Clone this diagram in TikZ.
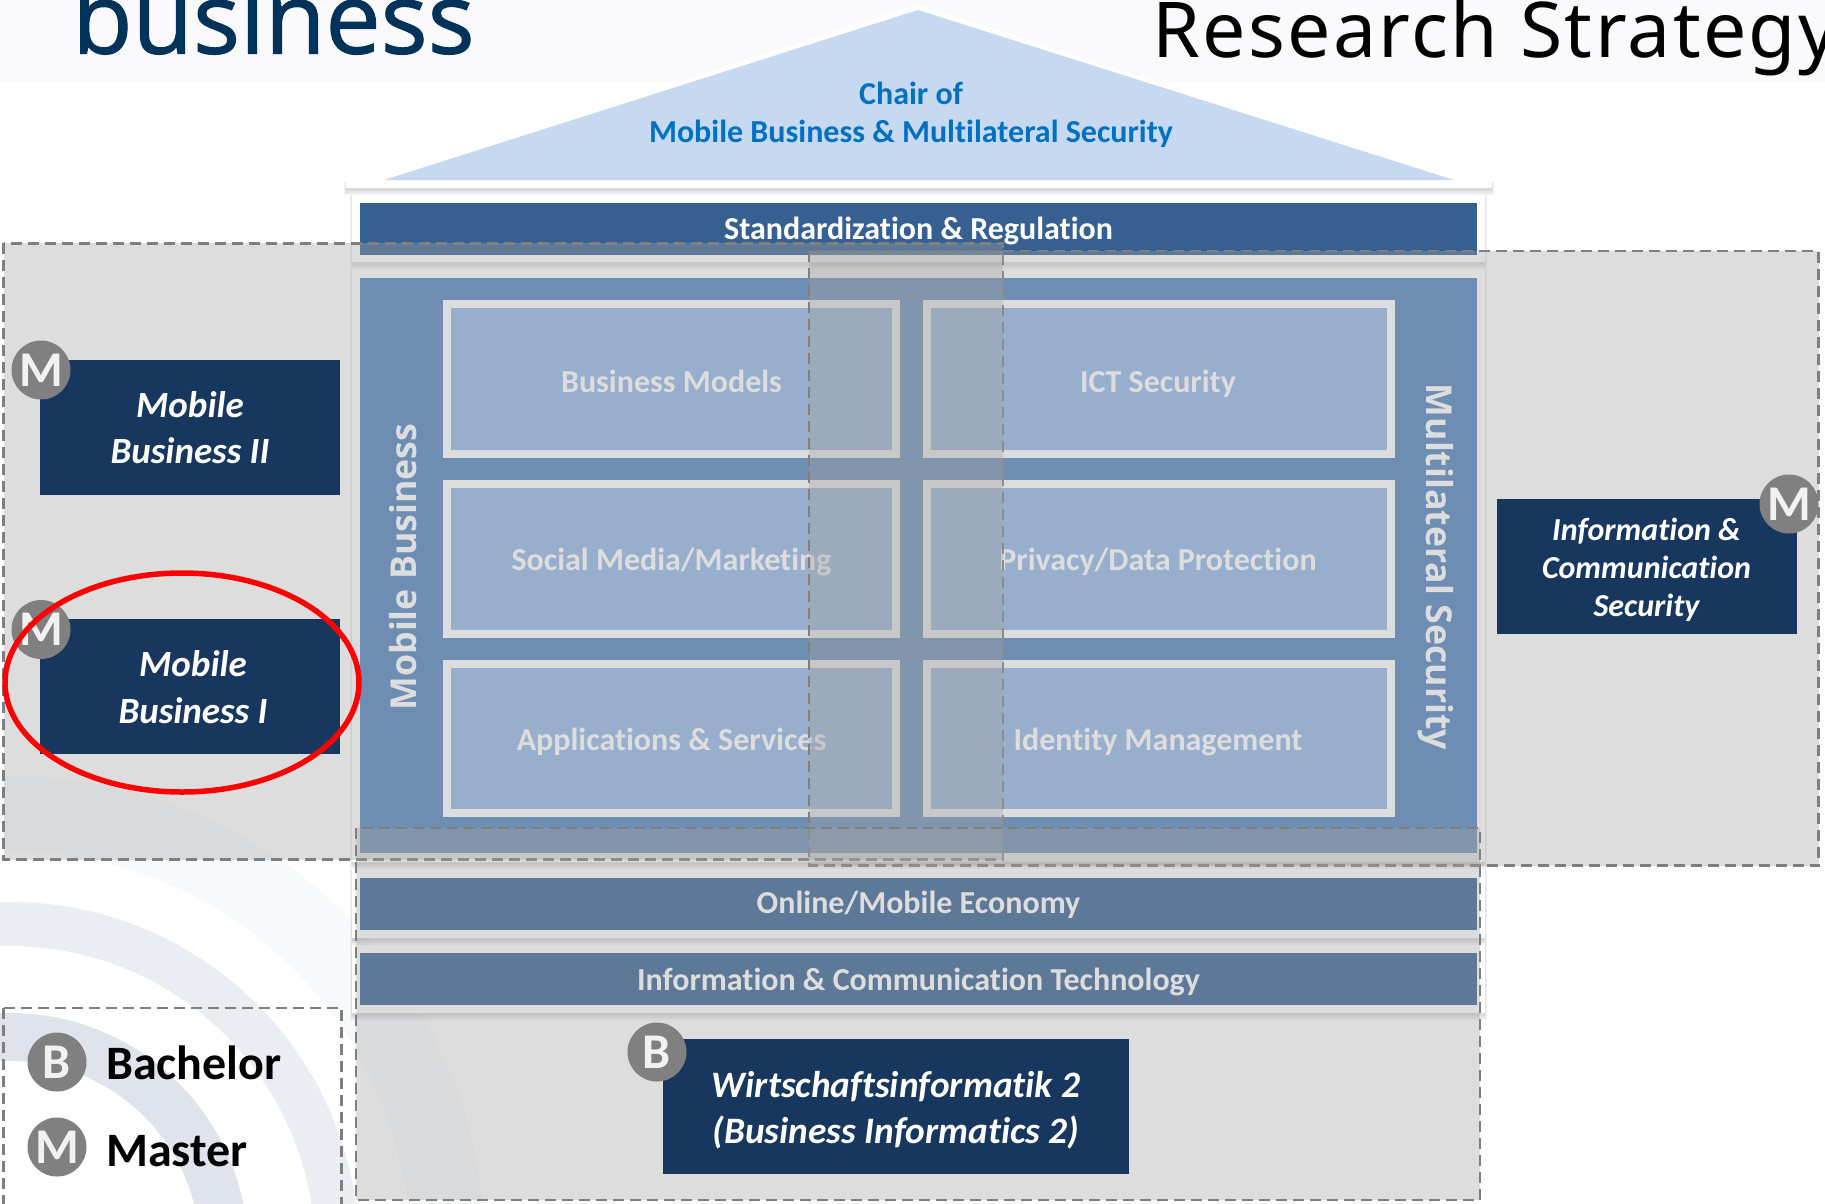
\documentclass[tikz,border=0pt]{standalone}
\usepackage{fontspec}
\setmainfont[Ligatures=NoCommon]{Carlito}
\newfontfamily\titlefont[LetterSpace=3]{Noto Sans}
\newfontfamily\logofont[FakeBold=1.2]{Open Sans}
\newfontfamily\sidefont{Open Sans}
\usetikzlibrary{shapes.geometric}
\definecolor{headband}{HTML}{FAFAFC}
\definecolor{roofblue}{HTML}{C6D9F1}
\definecolor{chairblue}{HTML}{0070C0}
\definecolor{bandblue}{HTML}{376092}
\definecolor{houseblue}{HTML}{4F81BD}
\definecolor{cellblue}{HTML}{91B4E3}
\definecolor{navy}{HTML}{17375E}
\definecolor{veil}{HTML}{A4A4A4}
\definecolor{dashgray}{HTML}{7F7F7F}
\definecolor{badgegray}{HTML}{808080}
\definecolor{swooshA}{HTML}{F8F9FB}
\definecolor{swooshB}{HTML}{EAEDF1}
\definecolor{swooshC}{HTML}{DFE4EC}
\definecolor{logoblue}{HTML}{00335A}
\tikzset{
  x=1pt,y=-1pt,
  framewhite/.style={fill=white,draw=none},
  softedge/.style={fill=black,fill opacity=.05,draw=none},
  cellbox/.style={fill=cellblue,draw=white,line width=8pt},
  veilbox/.style={fill=veil,fill opacity=.365,draw=dashgray,draw opacity=1,line width=2.5pt,dash pattern=on 11pt off 6pt},
  coursebox/.style={fill=navy,draw=none,inner sep=0pt,anchor=center},
  coursetext/.style={text=white,font=\fontsize{37}{46.5}\selectfont\bfseries\itshape,align=center,inner sep=0pt},
  badge/.style={circle,fill=badgegray,draw=none,text=white!95!black,minimum size=59pt,inner sep=0pt,font=\fontsize{50}{50}\selectfont\bfseries},
  whitelabel/.style={text=white,font=\fontsize{32}{38}\selectfont\bfseries,inner sep=0pt,text height=21pt,text depth=7pt},
  sidelabel/.style={text=white,font=\sidefont\fontsize{35.7}{36}\selectfont\bfseries,inner sep=0pt},
  legendlabel/.style={text=black,font=\fontsize{48}{48}\selectfont\bfseries,inner sep=0pt,anchor=west},
}
\newcommand{\framedbox}[4]{%
  \fill[softedge] (#1-2,#2) rectangle (#3+2,#4+7);
  \fill[softedge] (#1-1,#2) rectangle (#3+1,#4+5);
  \fill[softedge] (#1,#2) rectangle (#3,#4+3);
  \fill[framewhite] (#1,#2) rectangle (#3,#4);
}
\begin{document}
\begin{tikzpicture}
\path[use as bounding box] (0,0) rectangle (1825,1203);
\clip (0,0) rectangle (1825,1203);
\fill[white] (0,0) rectangle (1825,1203);
% background swooshes
\fill[even odd rule,fill=swooshA] (10,1251) circle[radius=475] (10,1251) circle[radius=400];
\fill[even odd rule,fill=swooshB] (10,1251) circle[radius=349] (10,1251) circle[radius=305];
\fill[even odd rule,fill=swooshC] (10,1251) circle[radius=238] (10,1251) circle[radius=190];
% header band
\fill[headband] (0,0) rectangle (1825,81.5);
\node[text=logoblue,font=\logofont\fontsize{98.5}{98}\selectfont,inner sep=0pt,anchor=base west] (logo) at (72,53.5) {business};
\node[text=black,font=\titlefont\fontsize{77}{77}\selectfont,inner sep=0pt,anchor=base west] (title) at (1152,57) {Research Strategy};
% roof
\fill[white] (918,4) -- (1470,184) -- (366,184) -- cycle;
\fill[roofblue] (918,10) -- (1454,180) -- (384,180) -- cycle;
\node[text=chairblue,font=\fontsize{32}{38.3}\selectfont\bfseries,align=center,inner sep=0pt] (chair) at (911,115) {Chair of\\Mobile Business \& Multilateral Security};
% beam
\framedbox{346}{182}{1492}{188}
% frames and bands
\framedbox{352}{195}{1485}{262}
\fill[bandblue] (360,203) rectangle (1477,254.5);
\node[whitelabel] (std) at (918.5,232) {Standardization \& Regulation};
\framedbox{352}{270}{1485}{862}
\fill[houseblue] (360,278) rectangle (1477,853);
\node[sidelabel,rotate=90] (mb) at (403,567) {Mobile Business};
\node[sidelabel,rotate=-90] (ms) at (1436,567) {Multilateral Security};
\draw[cellbox] (447,304) rectangle (896,454);
\draw[cellbox] (926.5,304) rectangle (1391,454);
\draw[cellbox] (447,484) rectangle (896,634);
\draw[cellbox] (926.5,484) rectangle (1391,634);
\draw[cellbox] (447,664) rectangle (896,813);
\draw[cellbox] (926.5,664) rectangle (1391,813);
\node[whitelabel] (c1) at (671.5,385) {Business Models};
\node[whitelabel] (c2) at (1158,385) {ICT Security};
\node[whitelabel] (c3) at (671.5,563.5) {Social Media/Marketing};
\node[whitelabel] (c4) at (1158,563.5) {Privacy/Data Protection};
\node[whitelabel] (c5) at (671.5,743) {Applications \& Services};
\node[whitelabel] (c6) at (1158,743) {Identity Management};
\framedbox{352}{870}{1485}{938}
\fill[bandblue] (360,878) rectangle (1477,929.5);
\node[whitelabel] (online) at (918.5,906) {Online/Mobile Economy};
\framedbox{352}{945}{1485}{1013}
\fill[bandblue] (360,953) rectangle (1477,1005);
\node[whitelabel] (ict) at (918.5,983.5) {Information \& Communication Technology};
% translucent dashed areas
\draw[veilbox] (3.5,243.4) rectangle (1003,859.5);
\draw[veilbox] (809,251) rectangle (1818.5,865.5);
\draw[veilbox] (356,828) rectangle (1480,1200);
\draw[dashgray,line width=2.5pt,dash pattern=on 11pt off 6pt] (3.5,1008) -- (341.5,1008) -- (341.5,1210);
\draw[dashgray,line width=2.5pt,dash pattern=on 11pt off 6pt] (3.5,1008) -- (3.5,1210);
% course boxes
\node[coursebox,minimum width=300pt,minimum height=135pt] (mb2) at (190,427.5) {};
\node[coursetext] (mb2t) at (190,427.5) {Mobile\\Business II};
\node[coursebox,minimum width=300pt,minimum height=135pt] (mb1) at (190,686.5) {};
\node[coursetext] (mb1t) at (193,687) {Mobile\\Business I};
\node[coursebox,minimum width=300pt,minimum height=135pt] (ics) at (1646.5,566.5) {};
\node[coursetext,font=\fontsize{32}{38}\selectfont\bfseries\itshape] (icst) at (1646.5,570) {Information \&\\Communication\\Security};
\node[coursebox,minimum width=466pt,minimum height=135pt] (wi) at (896,1106.5) {};
\node[coursetext,font=\fontsize{37.3}{45.5}\selectfont\bfseries\itshape] (wit) at (896,1110) {Wirtschaftsinformatik 2\\(Business Informatics 2)};
% badges
\node[badge] (bm2) at (41,370) {M};
\node[badge] (bm1) at (41,629.5) {M};
\node[badge] (bics) at (1789,504) {M};
\node[badge] (bwi) at (657,1052) {B};
\node[badge] (lb) at (57,1062) {B};
\node[badge] (lm) at (57,1147) {M};
\node[legendlabel] (lbt) at (106,1063) {Bachelor};
\node[legendlabel] (lmt) at (106,1151) {Master};
% highlight
\node[ellipse,draw=red,line width=5.5pt,minimum width=354pt,minimum height=219pt,inner sep=0pt] (focus) at (182,682.5) {};
\end{tikzpicture}
\end{document}
